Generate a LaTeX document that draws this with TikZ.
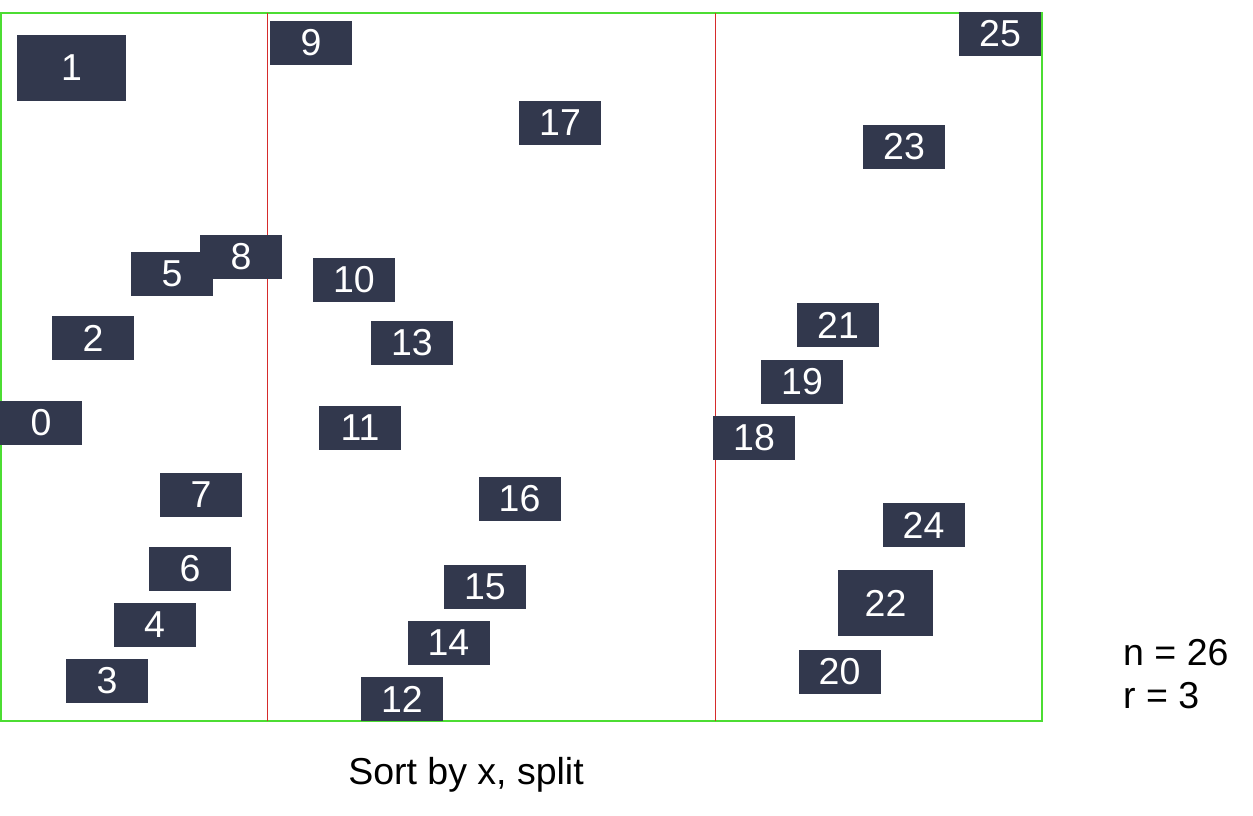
\documentclass[tikz,border=0pt]{standalone}
\usepackage{fontspec}
\setmainfont{Liberation Sans}
\definecolor{boxfill}{HTML}{32384D}
\definecolor{framegreen}{HTML}{4CDD33}
\definecolor{splitred}{HTML}{D62B2B}
\begin{document}
\begin{tikzpicture}[x=1pt,y=-1pt,
  pt/.style={rectangle, fill=boxfill, text=white, inner sep=0pt,
    minimum width=82pt, minimum height=44pt,
    font=\fontsize{37.5}{44}\selectfont},
  big/.style={minimum width=109pt, minimum height=66pt},
  label/.style={font=\fontsize{37.5}{44}\selectfont, text=black, inner sep=0pt}]
\useasboundingbox (0,0) rectangle (1253,816);
\coordinate (ftl) at (1,13);
\coordinate (fbr) at (1042,721);
\draw[framegreen, line width=2.5pt] (ftl) rectangle (fbr);
\coordinate (s1t) at (267,13);
\coordinate (s1b) at (267,721);
\coordinate (s2t) at (715,13);
\coordinate (s2b) at (715,721);
\draw[splitred, line width=1pt] (s1t) -- (s1b);
\draw[splitred, line width=1pt] (s2t) -- (s2b);
\node[pt] (p0) at (41,423) {0};
\node[pt, big] (p1) at (71.5,68) {1};
\node[pt] (p2) at (93,338) {2};
\node[pt] (p3) at (107,681) {3};
\node[pt] (p4) at (154.5,625) {4};
\node[pt] (p5) at (172,273.5) {5};
\node[pt] (p8) at (241,257) {8};
\node[pt] (p6) at (190,568.5) {6};
\node[pt] (p7) at (201,494.5) {7};
\node[pt] (p9) at (311,43) {9};
\node[pt] (p10) at (354,280) {10};
\node[pt] (p11) at (360,428) {11};
\node[pt] (p12) at (402,699) {12};
\node[pt] (p13) at (412,343) {13};
\node[pt] (p14) at (448.5,642.5) {14};
\node[pt] (p15) at (485,586.5) {15};
\node[pt] (p16) at (519.5,499) {16};
\node[pt] (p17) at (560,122.5) {17};
\node[pt] (p18) at (754,437.5) {18};
\node[pt] (p19) at (802,381.5) {19};
\node[pt] (p20) at (839.5,671.5) {20};
\node[pt] (p21) at (838,325) {21};
\node[pt, minimum width=95pt, minimum height=66pt] (p22) at (885.5,603) {22};
\node[pt] (p23) at (904,147) {23};
\node[pt] (p24) at (923.5,525) {24};
\node[pt] (p25) at (1000,34) {25};
\node[label, anchor=base] (cap) at (466,784) {Sort by x, split};
\node[label, anchor=base west] (nval) at (1123,665) {n = 26};
\node[label, anchor=base west] (rval) at (1123,708) {r = 3};
\end{tikzpicture}
\end{document}
